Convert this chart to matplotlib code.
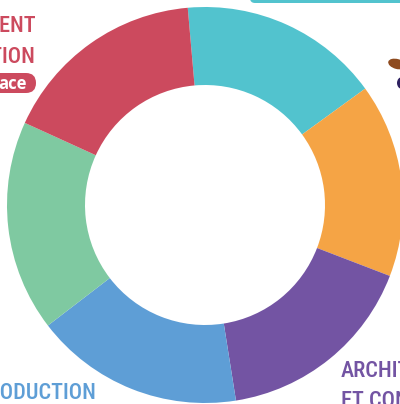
import matplotlib.pyplot as plt
from matplotlib.patches import FancyBboxPatch, Ellipse

# segment order: clockwise from the top
segments = ["cyan", "orange", "purple", "blue", "green", "red"]
shares = [59, 57, 60, 61.5, 62, 60.5]
colors = ["#52C3CE", "#F5A445", "#7354A3", "#5E9ED6", "#7FC9A1", "#CC4A5E"]

W, H = 400, 404
fig = plt.figure(figsize=(W / 100, H / 100), dpi=100)
ax = fig.add_axes([0, 0, 1, 1])

cx, cy = 205, H - 205
ax.pie(shares, colors=colors, radius=198, center=(cx, cy), startangle=95,
       counterclock=False, wedgeprops=dict(width=78, linewidth=0))

font = ["Roboto Condensed", "Roboto", "DejaVu Sans"]
fs = 16

# cut-off labels from the surrounding infographic
ax.text(36, H - 26, "EMENT", color="#CC4A5E", fontsize=fs, family=font,
        fontweight="medium", ha="right", va="center")
ax.text(36, H - 57, "ATION", color="#CC4A5E", fontsize=fs, family=font,
        fontweight="medium", ha="right", va="center")
pill = FancyBboxPatch((-30, H - 93), 66, 20, boxstyle="round,pad=0,rounding_size=10",
                      fc="#CC4A5E", ec="none")
ax.add_patch(pill)
ax.text(27, H - 84, "ace", color="white", fontsize=12, family=["Open Sans", "DejaVu Sans"],
        fontweight="bold", ha="right", va="center")

ax.text(96, H - 393, "PRODUCTION", color="#5E9ED6", fontsize=fs, family=font,
        fontweight="medium", ha="right", va="center")
ax.text(341, H - 371, "ARCHITECTURE", color="#7354A3", fontsize=fs, family=font,
        fontweight="medium", ha="left", va="center")
ax.text(341, H - 401, "ET CONSTRUCTION", color="#7354A3", fontsize=fs, family=font,
        fontweight="medium", ha="left", va="center")

# bits of neighbouring elements at the edges
bar = FancyBboxPatch((250, H - 3), 200, 10, boxstyle="round,pad=0,rounding_size=5",
                     fc="#52C3CE", ec="none")
ax.add_patch(bar)
ax.add_patch(Ellipse((397, H - 64), 18, 10, angle=-15, fc="#8E4A1E", ec="none"))
ax.add_patch(Ellipse((402, H - 83), 10, 12, fc="#2E2060", ec="none"))

ax.set_xlim(0, W)
ax.set_ylim(0, H)
ax.set_aspect("equal")
ax.axis("off")

fig.savefig("out.png", dpi=100)
